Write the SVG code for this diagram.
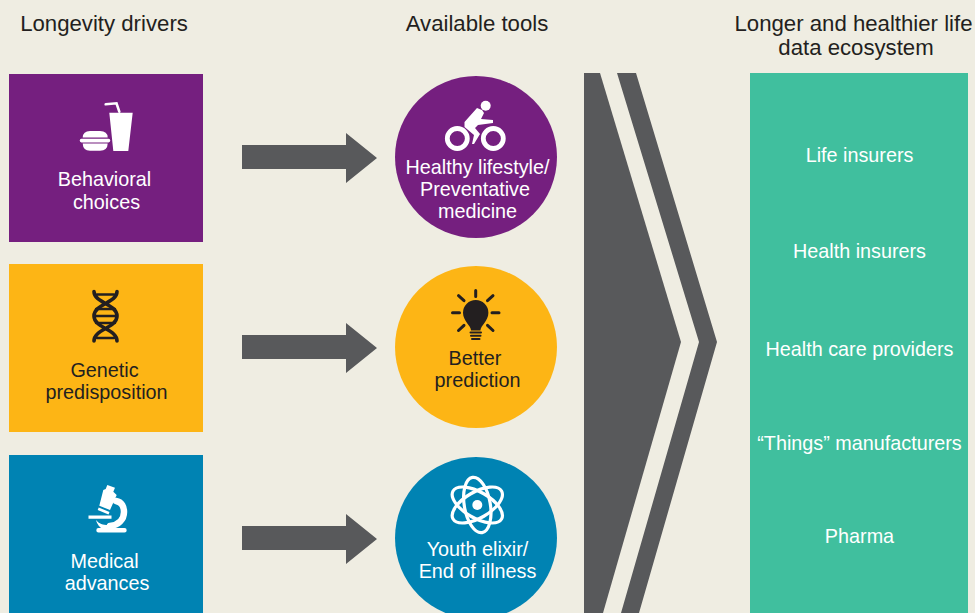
<svg xmlns="http://www.w3.org/2000/svg" width="975" height="613" viewBox="0 0 975 613">
<style>
text{font-family:"Liberation Sans",Arial,sans-serif;font-size:19.800px;text-anchor:middle}
.h{font-size:22.200px;fill:#231f20}
.w{fill:#fff}
.d{fill:#231f20}
.gray{fill:#58595b}
.wi{fill:#fff}
.ws{fill:none;stroke:#fff;stroke-linecap:round}
.di{fill:#231f20}
.ds{fill:none;stroke:#231f20;stroke-linecap:round}
</style>
<defs>
<polygon id="arr" points="242,145 346,145 346,133 377,158 346,183 346,169 242,169"/>
</defs>
<rect width="975" height="613" fill="#efede2"/>
<g id="headers">
<text class="h" x="104" y="30.500">Longevity drivers</text>
<text class="h" x="477" y="30.500">Available tools</text>
<text class="h" x="853.500" y="30.500">Longer and healthier life</text>
<text class="h" x="856" y="54.500">data ecosystem</text>
</g>
<g id="connectors" class="gray">
<use href="#arr"/>
<use href="#arr" y="190"/>
<use href="#arr" y="381"/>
</g>
<g id="chevrons" class="gray">
<polygon points="584,73 600,73 681,342 603,613 584,613"/>
<polygon points="617,73 636,73 717,342 639,613 621,613 699,342"/>
</g>
<g id="driver-behavioral">
<rect x="9" y="74" width="194" height="168" fill="#751f7f"/>
<path class="wi" d="M82.700,137.500Q83,131 90,131H100Q107.500,131 107.700,137.500ZM81.500,138.800H108.500A1.800,1.800 0 0 1 108.500,142.400H81.500A1.800,1.800 0 0 1 81.500,138.800ZM82.700,143.500H107.700Q107.500,150.700 100,150.700H90Q83,150.700 82.700,143.500ZM109.300,112.700H132.700L128.300,151H113.300Z"/>
<path class="ws" stroke-width="2.600" stroke-linecap="butt" d="M105.700,104.300L116.500,103.300L119.300,111.700"/>
<text class="w" x="104.500" y="186">Behavioral</text>
<text class="w" x="106.500" y="209">choices</text>
</g>
<g id="driver-genetic">
<rect x="9" y="264" width="194" height="168" fill="#fdb515"/>
<path class="ds" stroke-width="3.600" d="M94,291.500C94,303 117,304 117,316C117,328 94,329 94,341M117,291.500C117,303 94,304 94,316C94,328 117,329 117,341"/>
<path class="ds" stroke-width="2.400" stroke-linecap="butt" d="M97,294.500H114M96,309H115M94,316H117M96,323H115M97,338H114"/>
<text class="d" x="104.500" y="377">Genetic</text>
<text class="d" x="106.500" y="399">predisposition</text>
</g>
<g id="driver-medical">
<rect x="9" y="455" width="194" height="158" fill="#0083b3"/>
<path class="wi" d="M107.300,485L115,487.700L113.300,491.700L116.700,495L110,510L99.300,505.700L103.300,490L105.700,489ZM98.700,507.500L109.500,512L108.500,514.500L97.700,510Z"/>
<path class="ws" stroke-width="6.500" stroke-linecap="butt" d="M116,501C122,502 124,507 124,512C124,520 118,525 110,526"/>
<path class="wi" d="M88.500,515.500H111.500V518.700H88.500ZM96,520C99,524 103,525 108,525V529H103C100,528 97,524 96,520ZM98.500,528H124.500A2.200,2.200 0 0 1 124.500,532.400H98.500A2.200,2.200 0 0 1 98.500,528Z"/>
<text class="w" x="104.500" y="568">Medical</text>
<text class="w" x="107" y="590">advances</text>
</g>
<g id="tool-lifestyle">
<circle cx="476" cy="157" r="81" fill="#751f7f"/>
<circle class="wi" cx="485.700" cy="105.700" r="5"/>
<circle class="ws" cx="457.300" cy="138.500" r="10" stroke-width="4.800"/>
<circle class="ws" cx="493.300" cy="138.500" r="10" stroke-width="4.800"/>
<path class="wi" d="M464.500,122L477,108L482,110L484,113L481,119L493,120V123L478,125L475,128L480,134L474,144H472L474,135L464.500,127Z"/>
<text class="w" x="477.500" y="174">Healthy lifestyle/</text>
<text class="w" x="475" y="196">Preventative</text>
<text class="w" x="477.500" y="218">medicine</text>
</g>
<g id="tool-prediction">
<circle cx="476" cy="347" r="81" fill="#fdb515"/>
<path class="di" d="M471,330.500C471,325.500 463,321 463,312.700A12.700,12.700 0 0 1 488.400,312.700C488.400,321 480.400,325.500 480.400,330.500Z"/>
<path class="ds" stroke-width="2" stroke-linecap="butt" d="M470.500,332.500H481M471,335.700H480.500M472,339H479.500"/>
<path class="ds" stroke-width="3" d="M475.700,290.500V296.500M452.500,312.700H459.500M492,312.700H499M458.500,295.700L464,300.700M493,295.700L487.500,300.700M458.500,330.500L464,325.300M493,330.500L487.500,325.300"/>
<text class="d" x="475" y="365">Better</text>
<text class="d" x="477.500" y="387">prediction</text>
</g>
<g id="tool-elixir">
<circle cx="476" cy="538" r="81" fill="#0083b3"/>
<circle class="wi" cx="477.300" cy="505" r="5"/>
<g class="ws" stroke-width="3.200">
<ellipse cx="477.300" cy="505" rx="28" ry="13" transform="rotate(80 477.300 505)"/>
<ellipse cx="477.300" cy="505" rx="28" ry="13" transform="rotate(30 477.300 505)"/>
<ellipse cx="477.300" cy="505" rx="28" ry="13" transform="rotate(-30 477.300 505)"/>
</g>
<text class="w" x="477.500" y="556">Youth elixir/</text>
<text class="w" x="477.500" y="578">End of illness</text>
</g>
<g id="ecosystem">
<rect x="750" y="73" width="218" height="540" fill="#40bf9e"/>
<text class="w" x="859.500" y="162">Life insurers</text>
<text class="w" x="859.500" y="258">Health insurers</text>
<text class="w" x="859.500" y="356">Health care providers</text>
<text class="w" x="859.500" y="450">“Things” manufacturers</text>
<text class="w" x="859.500" y="543">Pharma</text>
</g>
</svg>
